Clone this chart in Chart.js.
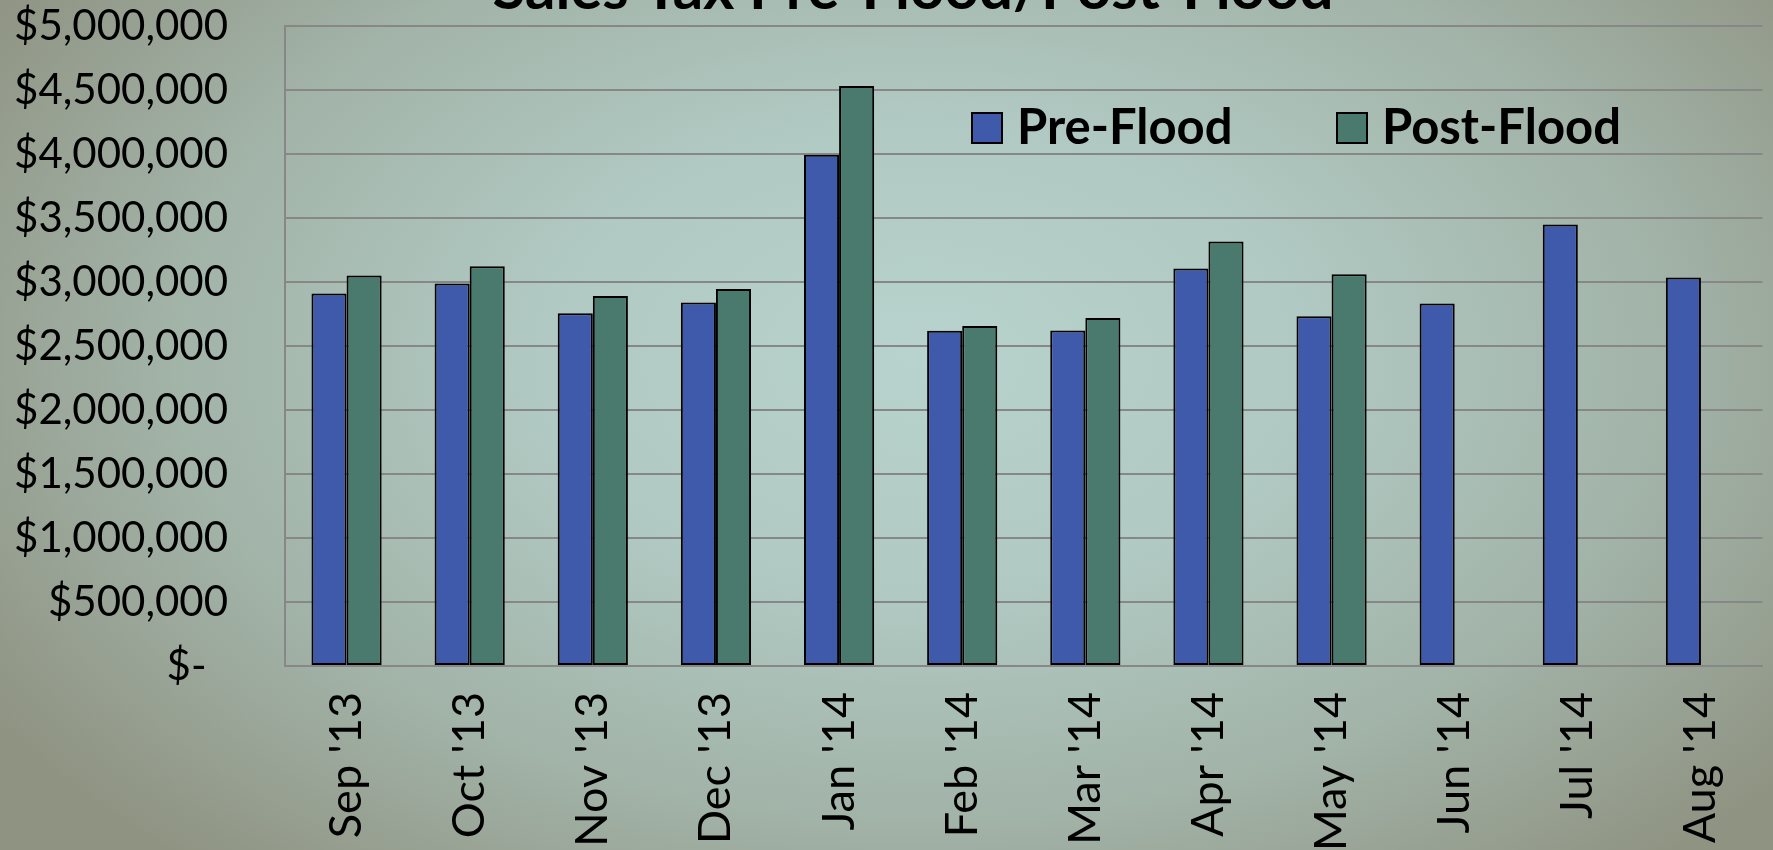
<!DOCTYPE html>
<html>
<head>
<meta charset="utf-8">
<title>Sales Tax Pre-Flood/Post-Flood</title>
<script src="https://cdn.jsdelivr.net/npm/chart.js@4.4.1/dist/chart.umd.min.js"></script>
<style>
  html, body {
    margin: 0;
    padding: 0;
  }
  body {
    width: 1773px;
    height: 850px;
    overflow: hidden;
    background: radial-gradient(ellipse 62% 80% at 52% 42%, #b8d2cd 0%, #b0c9c2 35%, #a2b3a8 68%, #8f9382 100%);
  }
  #wrap {
    position: relative;
    width: 1773px;
    height: 850px;
  }
</style>
</head>
<body>
<div id="wrap">
  <canvas id="salesTaxChart"></canvas>
</div>
<script>
const chartTitle = "Sales Tax Pre-Flood/Post-Flood";

const months = ["Sep '13", "Oct '13", "Nov '13", "Dec '13", "Jan '14", "Feb '14",
  "Mar '14", "Apr '14", "May '14", "Jun '14", "Jul '14", "Aug '14"];

const preFlood = [2910000, 2988000, 2756000, 2840000, 3994000, 2620000,
  2622000, 3106000, 2733000, 2833000, 3450000, 3036000];

const postFlood = [3051000, 3124000, 2891000, 2946000, 4531000, 2657000,
  2718000, 3316000, 3060000, null, null, null];

const yTicks = [0, 500000, 1000000, 1500000, 2000000, 2500000,
  3000000, 3500000, 4000000, 4500000, 5000000];

const FONT = "Lato, 'Open Sans', sans-serif";

document.addEventListener("DOMContentLoaded", () => {
  renderSalesTaxChart();
});

// title sits mostly above the top edge in the original, so draw it by hand
const titlePlugin = {
  id: "cutTitle",
  afterDraw(chart) {
    const ctx = chart.ctx;
    ctx.save();
    ctx.font = `bold 60px ${FONT}`;
    ctx.fillStyle = "#000000";
    ctx.textAlign = "center";
    ctx.textBaseline = "alphabetic";
    ctx.fillText(chartTitle, 913, 9);
    ctx.restore();
  }
};

// legend drawn inside the plot, top right
const insideLegend = {
  id: "insideLegend",
  afterDraw(chart) {
    const ctx = chart.ctx;
    const spots = [972, 1337];
    ctx.save();
    ctx.font = `bold 49px ${FONT}`;
    ctx.textBaseline = "alphabetic";
    chart.data.datasets.forEach((ds, i) => {
      const x = spots[i];
      ctx.fillStyle = ds.backgroundColor;
      ctx.fillRect(x, 113, 30, 30);
      ctx.lineWidth = 2;
      ctx.strokeStyle = "#000000";
      ctx.strokeRect(x, 113, 30, 30);
      ctx.fillStyle = "#000000";
      ctx.fillText(ds.label, x + 45, 144);
    });
    ctx.restore();
  }
};

function money(value) {
  if (value === 0) return "$-  ";
  return "$" + value.toLocaleString("en-US");
}

function renderSalesTaxChart() {
  const ctx = document.getElementById("salesTaxChart");

  new Chart(ctx, {
    type: "bar",
    data: {
      labels: months,
      datasets: [
        {
          label: "Pre-Flood",
          data: preFlood,
          backgroundColor: "#3f5aaa",
          borderColor: "#000000",
          borderWidth: 2,
          borderSkipped: false
        },
        {
          label: "Post-Flood",
          data: postFlood,
          backgroundColor: "#4a7a6e",
          borderColor: "#000000",
          borderWidth: 2,
          borderSkipped: false
        }
      ]
    },
    options: {
      responsive: true,
      maintainAspectRatio: false,
      animation: false,
      categoryPercentage: 0.57,
      barPercentage: 1.0,
      layout: {
        padding: { top: 26, right: 1, left: 0, bottom: 0 }
      },
      plugins: {
        legend: { display: false },
        tooltip: { enabled: false },
        title: { display: false }
      },
      scales: {
        x: {
          grid: { display: false },
          border: { color: "#878787", width: 2 },
          ticks: {
            color: "#000000",
            font: { family: FONT, size: 45 },
            minRotation: 90,
            maxRotation: 90,
            padding: 18
          },
          afterFit(scale) {
            scale.height = 184;
          }
        },
        y: {
          min: 0,
          max: 5000000,
          afterBuildTicks(scale) {
            scale.ticks = yTicks.map((v) => ({ value: v }));
          },
          grid: {
            color: "#878787",
            lineWidth: 2,
            tickLength: 57,
            tickColor: "rgba(0,0,0,0)"
          },
          border: { color: "#878787", width: 2 },
          ticks: {
            color: "#000000",
            font: { family: FONT, size: 42 },
            padding: 0,
            callback: (value) => money(value)
          },
          afterFit(scale) {
            scale.width = 285;
          }
        }
      }
    },
    plugins: [titlePlugin, insideLegend]
  });
}
</script>
</body>
</html>
